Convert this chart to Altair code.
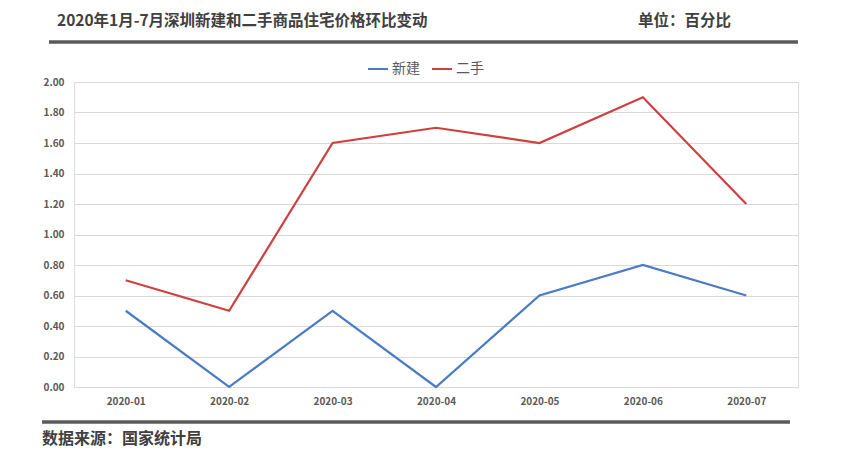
import altair as alt
import pandas as pd

months = ["2020-01", "2020-02", "2020-03", "2020-04", "2020-05", "2020-06", "2020-07"]
new_homes = [0.5, 0.0, 0.5, 0.0, 0.6, 0.8, 0.6]
second_hand = [0.7, 0.5, 1.6, 1.7, 1.6, 1.9, 1.2]
series_names = ["新建", "二手"]
series_colors = ["#4A7BC4", "#D03F3F"]
y_ticks = [0.0, 0.2, 0.4, 0.6, 0.8, 1.0, 1.2, 1.4, 1.6, 1.8, 2.0]

title_text = "2020年1月-7月深圳新建和二手商品住宅价格环比变动"
unit_text = "单位：百分比"
source_text = "数据来源：国家统计局"

rows = []
for m, v in zip(months, new_homes):
    rows.append({"month": m, "value": v, "series": series_names[0]})
for m, v in zip(months, second_hand):
    rows.append({"month": m, "value": v, "series": series_names[1]})
df = pd.DataFrame(rows)

CJK = "Noto Sans CJK SC"
W, H = 724, 305

lines = alt.Chart(df).mark_line(strokeWidth=2.2).encode(
    x=alt.X("month:N", sort=months, title=None,
            scale=alt.Scale(paddingInner=0, paddingOuter=0),
            axis=alt.Axis(labelAngle=0, ticks=False, domain=False, grid=False,
                          labelFont=CJK, labelFontSize=10, labelFontWeight="bold",
                          labelColor="#595959", labelPadding=9)),
    y=alt.Y("value:Q", title=None,
            scale=alt.Scale(domain=[0, 2], nice=False),
            axis=alt.Axis(values=y_ticks, format=".2f", ticks=False, domain=False,
                          grid=True, gridColor="#d9d9d9", gridWidth=1,
                          labelFont=CJK, labelFontSize=10, labelFontWeight="bold",
                          labelColor="#595959", labelPadding=10)),
    color=alt.Color("series:N", sort=series_names,
                    scale=alt.Scale(domain=series_names, range=series_colors),
                    legend=alt.Legend(title=None, orient="none", direction="horizontal",
                                      legendX=293, legendY=-24, symbolType="stroke",
                                      symbolSize=400, symbolStrokeWidth=2,
                                      labelFont=CJK, labelFontSize=14,
                                      labelColor="#595959", columnPadding=8,
                                      labelOffset=3, padding=0)),
)

deco_df = pd.DataFrame({"k": [0]})
base = alt.Chart(deco_df)

top_rule = base.mark_rule(color="#5a5a5a", strokeWidth=3.5).encode(
    x=alt.value(-25), x2=alt.value(724), y=alt.value(-40))
bottom_rule = base.mark_rule(color="#5a5a5a", strokeWidth=3.5).encode(
    x=alt.value(-32), x2=alt.value(716), y=alt.value(340))

title_mark = base.mark_text(align="left", baseline="middle", font=CJK, fontSize=15.5,
                            fontWeight="bold", color="#404040").encode(
    x=alt.value(-17), y=alt.value(-61), text=alt.value(title_text))
unit_mark = base.mark_text(align="left", baseline="middle", font=CJK, fontSize=15.5,
                           fontWeight="bold", color="#404040").encode(
    x=alt.value(564), y=alt.value(-61), text=alt.value(unit_text))
source_mark = base.mark_text(align="left", baseline="middle", font=CJK, fontSize=16,
                             fontWeight="bold", color="#404040").encode(
    x=alt.value(-32), y=alt.value(357), text=alt.value(source_text))

chart = alt.layer(lines, top_rule, bottom_rule,
                  title_mark, unit_mark, source_mark).properties(
    width=W, height=H,
    autosize=alt.AutoSizeParams(type="none"),
    padding={"left": 66, "top": 74, "right": 48, "bottom": 64},
).configure_view(stroke=None).configure(background="white")

chart.save("out.html", embed_options={"renderer": "svg", "actions": False})
